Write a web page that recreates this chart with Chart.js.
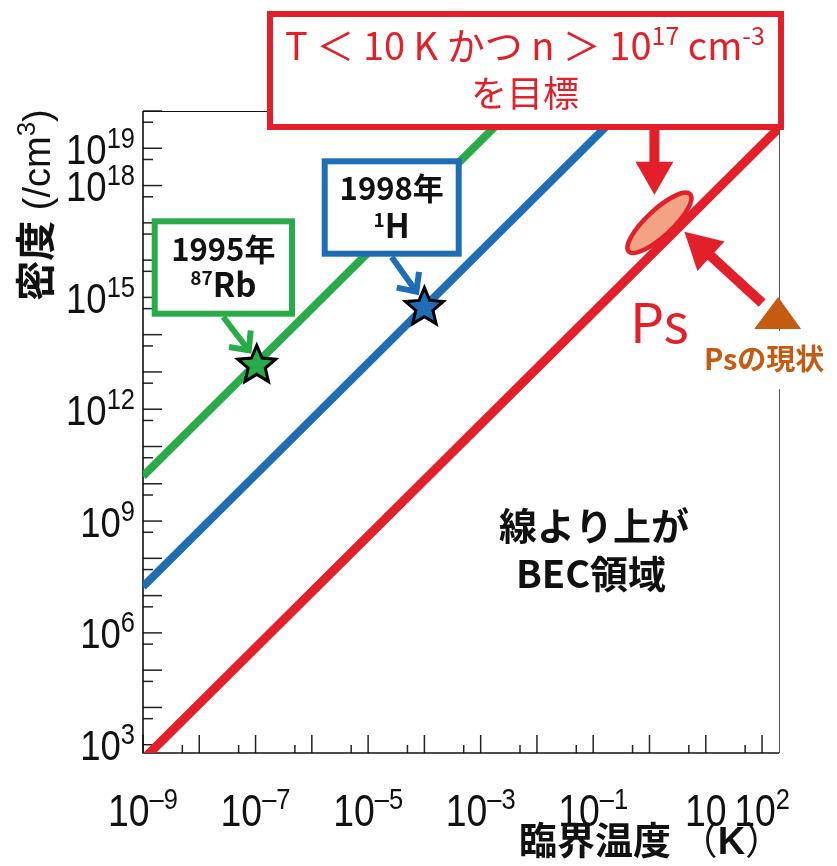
<!DOCTYPE html>
<html>
<head>
<meta charset="utf-8">
<script src="https://cdn.jsdelivr.net/npm/chart.js@4.4.0/dist/chart.umd.min.js"></script>
<style>
  html, body { margin: 0; padding: 0; background: #fff; }
  canvas { display: block; }
</style>
</head>
<body>
<canvas id="becChart" width="837" height="866"></canvas>
<script>
// BEC critical lines n(T): two end points each, log-log straight lines
const psT = [1e-9, 200];
const psN = [4.0e2, 3.5e19];
const hT = [1e-9, 1];
const hN = [1.75e7, 5.5e20];
const rbT = [1e-9, 1e-2];
const rbN = [1.6e10, 5.0e20];

// first condensates: 87Rb (1995), 1H (1998)
const starT = [1.05e-7, 1.0e-4];
const starN = [1.7e13, 6.0e14];

// Ps target and present state
const goalT = 1.5, goalN = 1e17;
const nowT = 185, nowN = 3.8e14;

const xTickExps = [-9, -7, -5, -3, -1, 1, 2];
const yTickExps = [3, 6, 9, 12, 15, 18, 19];

const RED = '#e3202a', GREEN = '#2aab4a', BLUE = '#1f6db4';
const ORANGE = '#c55a11', SALMON = '#f3a383';
const CJK = '"Noto Sans CJK JP", sans-serif';
const LAT = '"Liberation Sans", Arial, sans-serif';

// draw a row of text pieces: [text, font, dy, xscale]
function drawRuns(ctx, parts, x, y, align) {
  ctx.textAlign = 'left';
  ctx.textBaseline = 'alphabetic';
  let w = 0;
  parts.forEach(p => {
    ctx.font = p[1];
    p.w = ctx.measureText(p[0]).width * (p[3] || 1);
    w += p.w;
  });
  let cx = align === 'center' ? x - w / 2 : align === 'right' ? x - w : x;
  parts.forEach(p => {
    ctx.save();
    ctx.font = p[1];
    ctx.translate(cx, y + (p[2] || 0));
    ctx.scale(p[3] || 1, 1);
    ctx.fillText(p[0], 0, 0);
    ctx.restore();
    cx += p.w;
  });
}

function star(ctx, x, y, R, r, fill) {
  ctx.beginPath();
  for (let i = 0; i < 10; i++) {
    const rad = i % 2 ? r : R;
    const a = -Math.PI / 2 + i * Math.PI / 5;
    ctx.lineTo(x + rad * Math.cos(a), y + rad * Math.sin(a));
  }
  ctx.closePath();
  ctx.fillStyle = fill;
  ctx.fill();
  ctx.lineWidth = 3;
  ctx.strokeStyle = '#000';
  ctx.lineJoin = 'miter';
  ctx.stroke();
}

function lineArrow(ctx, x0, y0, x1, y1, color) {
  const ang = Math.atan2(y1 - y0, x1 - x0), h = 20;
  ctx.strokeStyle = color;
  ctx.lineWidth = 6;
  ctx.lineCap = 'butt';
  ctx.lineJoin = 'miter';
  ctx.beginPath();
  ctx.moveTo(x0, y0);
  ctx.lineTo(x1 - 3 * Math.cos(ang), y1 - 3 * Math.sin(ang));
  ctx.stroke();
  ctx.beginPath();
  ctx.moveTo(x1 - h * Math.cos(ang - 0.75), y1 - h * Math.sin(ang - 0.75));
  ctx.lineTo(x1, y1);
  ctx.lineTo(x1 - h * Math.cos(ang + 0.75), y1 - h * Math.sin(ang + 0.75));
  ctx.stroke();
}

function blockArrow(ctx, x0, y0, x1, y1, sw, hl, hw, color) {
  const len = Math.hypot(x1 - x0, y1 - y0);
  ctx.save();
  ctx.translate(x0, y0);
  ctx.rotate(Math.atan2(y1 - y0, x1 - x0));
  ctx.beginPath();
  ctx.moveTo(0, -sw / 2);
  ctx.lineTo(len - hl, -sw / 2);
  ctx.lineTo(len - hl, -hw / 2);
  ctx.lineTo(len, 0);
  ctx.lineTo(len - hl, hw / 2);
  ctx.lineTo(len - hl, sw / 2);
  ctx.lineTo(0, sw / 2);
  ctx.closePath();
  ctx.fillStyle = color;
  ctx.fill();
  ctx.restore();
}

function box(ctx, x, y, w, h, color) {
  ctx.fillStyle = '#fff';
  ctx.fillRect(x, y, w, h);
  ctx.lineWidth = 6;
  ctx.strokeStyle = color;
  ctx.strokeRect(x, y, w, h);
}

// axes frame, inward ticks and power-of-ten labels
const frame = {
  id: 'frame',
  beforeDatasetsDraw(chart) {
    const { ctx, chartArea: a, scales: { x, y } } = chart;
    ctx.save();
    ctx.strokeStyle = '#222';
    ctx.lineWidth = 1.5;
    for (let e = -9; e <= 2; e++) {
      [[1, 18], [5, 8]].forEach(([m, len]) => {
        const v = m * Math.pow(10, e);
        if (v < x.min * 0.999 || v > x.max * 1.001) return;
        const px = x.getPixelForValue(v);
        ctx.beginPath();
        ctx.moveTo(px, a.bottom);
        ctx.lineTo(px, a.bottom - len);
        ctx.stroke();
      });
    }
    for (let e = 2; e <= 20; e++) {
      [[1, 19], [5, 10]].forEach(([m, len]) => {
        const v = m * Math.pow(10, e);
        if (v < y.min * 0.999 || v > y.max * 1.001) return;
        const py = y.getPixelForValue(v);
        ctx.beginPath();
        ctx.moveTo(a.left, py);
        ctx.lineTo(a.left + len, py);
        ctx.stroke();
      });
    }
    // frame
    ctx.lineWidth = 1;
    ctx.strokeStyle = '#111';
    ctx.beginPath();
    ctx.moveTo(a.left, a.top + 0.5);
    ctx.lineTo(a.right, a.top + 0.5);
    ctx.stroke();
    ctx.strokeStyle = '#555';
    ctx.beginPath();
    ctx.moveTo(a.right + 0.5, a.top);
    ctx.lineTo(a.right + 0.5, a.bottom);
    ctx.stroke();
    ctx.lineWidth = 1.6;
    ctx.strokeStyle = '#111';
    ctx.beginPath();
    ctx.moveTo(a.left, a.top);
    ctx.lineTo(a.left, a.bottom);
    ctx.lineTo(a.right, a.bottom);
    ctx.stroke();

    // tick labels
    ctx.fillStyle = '#111';
    yTickExps.forEach(e => {
      const py = y.getPixelForValue(Math.pow(10, e));
      drawRuns(ctx, [['10', '43px ' + LAT, 0, 0.85], [String(e), '30px ' + LAT, -16, 0.85]], 135, py + 15.5, 'right');
    });
    xTickExps.forEach(e => {
      const px = x.getPixelForValue(Math.pow(10, e));
      const parts = [['10', '44px ' + LAT, 0, 0.85]];
      if (e !== 1) parts.push([e < 0 ? '\u2013' + (-e) : String(e), '30px ' + LAT, -17, 0.85]);
      drawRuns(ctx, parts, px, 826, 'center');
    });

    // axis titles
    drawRuns(ctx, [['臨界温度 ', 'bold 38px ' + CJK], ['（', '38px ' + CJK], ['K', 'bold 38px ' + LAT], ['）', '38px ' + CJK]], 519, 854, 'left');
    ctx.save();
    ctx.translate(50, 205);
    ctx.rotate(-Math.PI / 2);
    drawRuns(ctx, [['密度', 'bold 40px ' + CJK], [' (/cm', '38px ' + LAT], ['3', '26px ' + LAT, -15], [')', '38px ' + LAT]], 0, 0, 'center');
    ctx.restore();
    ctx.restore();
  }
};

// markers, callouts and notes above the lines
const notes = {
  id: 'notes',
  afterDatasetsDraw(chart) {
    const { ctx, scales: { x, y } } = chart;
    ctx.save();

    // Ps target ellipse
    const ex = x.getPixelForValue(goalT), ey = y.getPixelForValue(goalN);
    ctx.beginPath();
    ctx.ellipse(ex, ey, 42, 13, -43 * Math.PI / 180, 0, Math.PI * 2);
    ctx.fillStyle = SALMON;
    ctx.fill();
    ctx.lineWidth = 4.5;
    ctx.strokeStyle = RED;
    ctx.stroke();

    // present Ps state
    const tx = x.getPixelForValue(nowT), ty = y.getPixelForValue(nowN);
    ctx.fillStyle = '#fff';
    ctx.fillRect(tx - 82, ty + 18, 140, 58);
    ctx.beginPath();
    ctx.moveTo(tx + 1, ty - 16);
    ctx.lineTo(tx + 24, ty + 16);
    ctx.lineTo(tx - 23, ty + 16);
    ctx.closePath();
    ctx.fillStyle = ORANGE;
    ctx.fill();
    drawRuns(ctx, [['Psの現状', 'bold 29px ' + CJK]], tx - 13, ty + 57, 'center');

    blockArrow(ctx, tx - 15, ty - 10, ex + 25, ey + 9, 10, 36, 40, RED);
    blockArrow(ctx, ex - 5, 127, ex - 5, ey - 28, 10, 33, 38, RED);

    ctx.fillStyle = RED;
    drawRuns(ctx, [['Ps', '54px ' + CJK]], ex, ey + 120, 'center');

    // first condensates
    const colors = [GREEN, BLUE];
    const sp = starT.map((t, i) => [x.getPixelForValue(t), y.getPixelForValue(starN[i])]);
    sp.forEach((p, i) => star(ctx, p[0], p[1] + 2, 20, 9, colors[i]));

    box(ctx, 154.7, 221.3, 137.3, 92.4, GREEN);
    box(ctx, 324.7, 161.3, 134, 92.4, BLUE);
    lineArrow(ctx, 223.3, 317, sp[0][0] - 8, sp[0][1] - 13, GREEN);
    lineArrow(ctx, 391.7, 257, sp[1][0] - 8, sp[1][1] - 14, BLUE);

    ctx.fillStyle = '#111';
    drawRuns(ctx, [['1995年', 'bold 31px ' + CJK]], 223.3, 261, 'center');
    drawRuns(ctx, [['87', 'bold 19px ' + CJK, -12], ['Rb', 'bold 33px ' + CJK]], 223.3, 297, 'center');
    drawRuns(ctx, [['1998年', 'bold 31px ' + CJK]], 391.7, 200, 'center');
    drawRuns(ctx, [['1', 'bold 19px ' + CJK, -11], ['H', 'bold 33px ' + CJK]], 391.7, 238, 'center');

    drawRuns(ctx, [['線より上が', 'bold 38px ' + CJK]], 594, 540, 'center');
    drawRuns(ctx, [['BEC領域', 'bold 38px ' + CJK]], 591, 588, 'center');

    // goal box
    box(ctx, 270, 14, 511, 113, RED);
    ctx.fillStyle = RED;
    drawRuns(ctx, [['T \uff1c 10 K かつ n \uff1e 10', '38px ' + CJK], ['17', '25px ' + CJK, -15], [' cm', '38px ' + CJK], ['-3', '25px ' + CJK, -15]], 525, 60, 'center');
    drawRuns(ctx, [['を目標', '36px ' + CJK]], 525, 107, 'center');

    ctx.restore();
  }
};

function pts(xs, ys) {
  return xs.map((v, i) => ({ x: v, y: ys[i] }));
}

const ctx = document.getElementById('becChart').getContext('2d');
new Chart(ctx, {
  type: 'line',
  data: {
    datasets: [
      { label: '87Rb', data: pts(rbT, rbN), borderColor: GREEN, borderWidth: 8, pointRadius: 0, clip: 0 },
      { label: '1H', data: pts(hT, hN), borderColor: BLUE, borderWidth: 8, pointRadius: 0, clip: 0 },
      { label: 'Ps', data: pts(psT, psN), borderColor: RED, borderWidth: 9, pointRadius: 0, clip: 0 }
    ]
  },
  options: {
    responsive: false,
    animation: false,
    devicePixelRatio: 1,
    layout: { padding: { left: 143, top: 111, right: 58, bottom: 113 } },
    plugins: { legend: { display: false }, tooltip: { enabled: false } },
    scales: {
      x: { type: 'logarithmic', min: 1e-9, max: 200, display: false },
      y: { type: 'logarithmic', min: 600, max: 1e20, display: false }
    }
  },
  plugins: [frame, notes]
});
</script>
</body>
</html>
